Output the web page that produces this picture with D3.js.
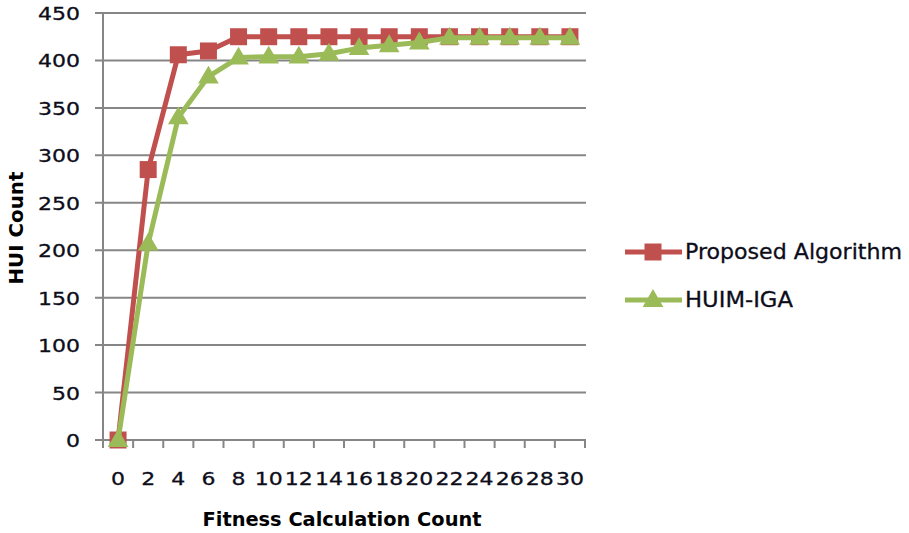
<!DOCTYPE html>
<html><head><meta charset="utf-8">
<script src="https://cdn.jsdelivr.net/npm/d3@7"></script>
<style>body{margin:0;background:#fff;} svg{display:block;}</style>
</head><body>
<svg id="chart" width="909" height="533"></svg>
<script>
const categories = ["0","2","4","6","8","10","12","14","16","18","20","22","24","26","28","30"];
const proposed = [0, 285, 406, 410, 425, 425, 425, 425, 425, 425, 425, 425, 425, 425, 425, 425];
const huimIga  = [0, 207, 340, 383, 403, 404, 404, 407, 413, 416, 419, 424, 424, 424, 424, 424];
const yTicks = [0, 50, 100, 150, 200, 250, 300, 350, 400, 450];
const seriesNames = ["Proposed Algorithm", "HUIM-IGA"];
const seriesColors = ["#C0504D", "#9BBB59"];

const svg = d3.select("#chart");
const x = d3.scaleBand().domain(categories).range([103, 585]);
const y = d3.scaleLinear().domain([0, 450]).range([440, 13]);
const font = "'DejaVu Sans', Verdana, sans-serif";
const grid = "#868686";
const textCol = "#0d0d1a";

// gridlines
svg.append("g").selectAll("line").data(yTicks).join("line")
  .attr("x1", 95).attr("x2", 586)
  .attr("y1", d => y(d)).attr("y2", d => y(d))
  .attr("stroke", grid).attr("stroke-width", 2);
// y axis line
svg.append("line").attr("x1", 103).attr("x2", 103).attr("y1", y(450)).attr("y2", y(0) + 8)
  .attr("stroke", grid).attr("stroke-width", 2);
// x tick marks at category boundaries
const bounds = categories.map(c => x(c)).concat([x.range()[1]]);
svg.append("g").selectAll("line").data(bounds).join("line")
  .attr("x1", d => d).attr("x2", d => d).attr("y1", y(0)).attr("y2", y(0) + 8)
  .attr("stroke", grid).attr("stroke-width", 2);

// y tick labels
svg.append("g").selectAll("text").data(yTicks).join("text")
  .attr("x", 80).attr("y", d => y(d) + 7)
  .attr("text-anchor", "end")
  .attr("font-family", font).attr("font-size", 18.5).attr("fill", textCol)
  .attr("stroke", textCol).attr("stroke-width", 0.3)
  .attr("textLength", d => String(d).length * 14).attr("lengthAdjust", "spacingAndGlyphs")
  .text(d => d);
// x tick labels
svg.append("g").selectAll("text").data(categories).join("text")
  .attr("x", d => x(d) + x.bandwidth() / 2).attr("y", 485)
  .attr("text-anchor", "middle")
  .attr("font-family", font).attr("font-size", 18.5).attr("fill", textCol)
  .attr("stroke", textCol).attr("stroke-width", 0.3)
  .attr("textLength", d => d.length * 14).attr("lengthAdjust", "spacingAndGlyphs")
  .text(d => d);

// axis titles
svg.append("text").attr("x", 342).attr("y", 526).attr("text-anchor", "middle")
  .attr("font-family", font).attr("font-weight", "bold").attr("font-size", 20).attr("fill", "#000")
  .attr("textLength", 279).attr("lengthAdjust", "spacingAndGlyphs")
  .text("Fitness Calculation Count");
svg.append("text").attr("transform", "translate(23,228) rotate(-90)").attr("text-anchor", "middle")
  .attr("font-family", font).attr("font-weight", "bold").attr("font-size", 20).attr("fill", "#000")
  .attr("textLength", 113).attr("lengthAdjust", "spacingAndGlyphs")
  .text("HUI Count");

// series
const cx = c => x(c) + x.bandwidth() / 2;
const line = d3.line().x((d, i) => cx(categories[i])).y(d => y(d));
const seriesData = [proposed, huimIga];
const symbols = [d3.symbolSquare, d3.symbolTriangle];
const symSizes = [289, 185];
seriesData.forEach((vals, s) => {
  const g = svg.append("g");
  g.append("path").datum(vals).attr("d", line).attr("fill", "none")
    .attr("stroke", seriesColors[s]).attr("stroke-width", 5).attr("stroke-linejoin", "round");
  g.selectAll("path.m").data(vals).join("path").attr("class", "m")
    .attr("transform", (d, i) => `translate(${cx(categories[i])},${y(d) + (s === 1 ? 1 : 0)})`)
    .attr("d", d3.symbol(symbols[s], symSizes[s]))
    .attr("fill", seriesColors[s]);
});

// legend
const legY = [252, 300];
const legLen = [217, 108];
seriesNames.forEach((name, s) => {
  const g = svg.append("g");
  g.append("line").attr("x1", 625).attr("x2", 682).attr("y1", legY[s]).attr("y2", legY[s])
    .attr("stroke", seriesColors[s]).attr("stroke-width", 5);
  g.append("path").attr("transform", `translate(653,${legY[s] + (s === 1 ? 1 : 0)})`)
    .attr("d", d3.symbol(symbols[s], symSizes[s])).attr("fill", seriesColors[s]);
  g.append("text").attr("x", 685).attr("y", legY[s] + 7)
    .attr("font-family", font).attr("font-size", 20.5).attr("fill", textCol)
    .attr("stroke", textCol).attr("stroke-width", 0.3)
    .attr("textLength", legLen[s]).attr("lengthAdjust", "spacingAndGlyphs")
    .text(name);
});
</script>
</body></html>
